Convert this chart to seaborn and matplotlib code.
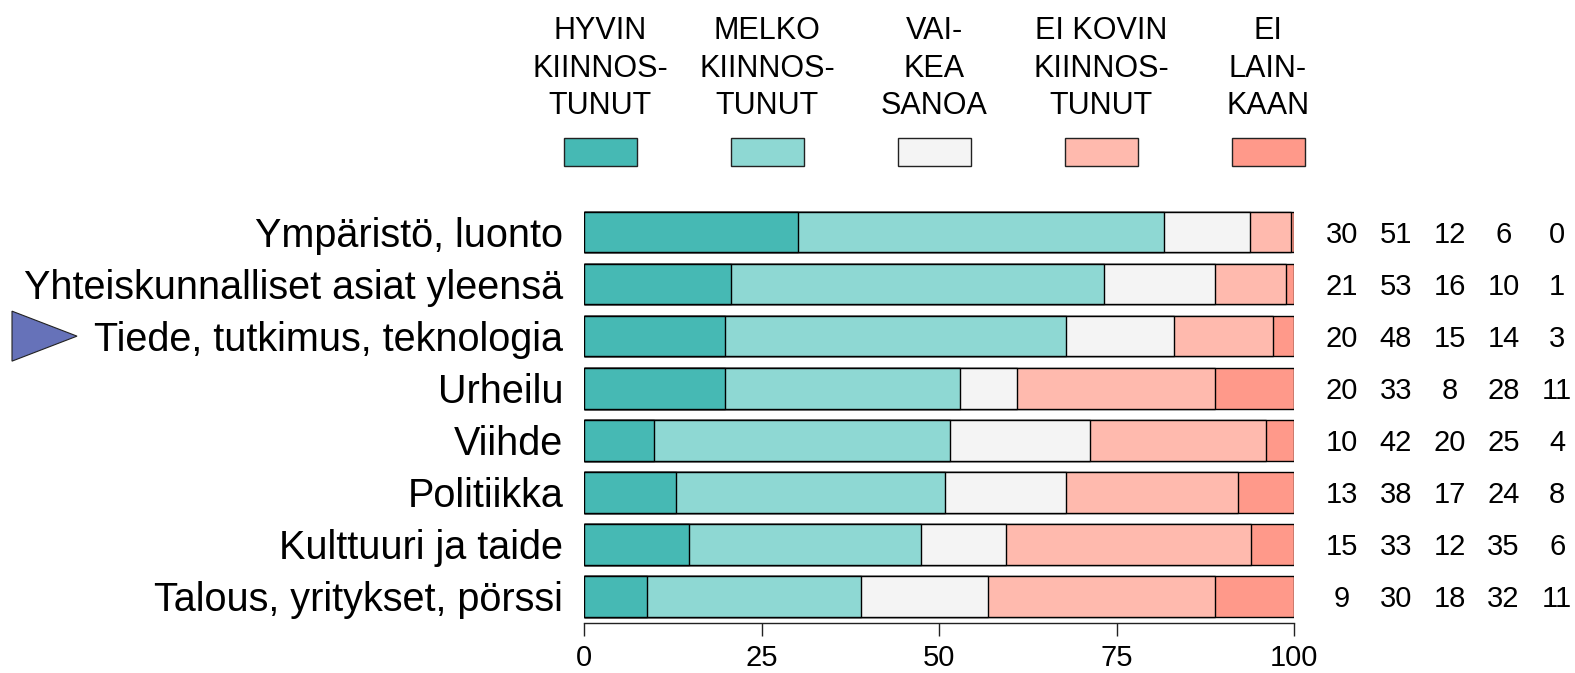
import numpy as np
import pandas as pd
import seaborn as sns
import matplotlib
matplotlib.use('Agg')
import matplotlib.pyplot as plt
from matplotlib.patches import Rectangle, Polygon

sns.set_theme(style='white')
plt.rcParams['font.family'] = ['Liberation Sans', 'DejaVu Sans']
plt.rcParams['text.color'] = 'black'
plt.rcParams['xtick.color'] = 'black'
plt.rcParams['ytick.color'] = 'black'
NARROW = ['Liberation Sans Narrow', 'Liberation Sans', 'DejaVu Sans']

# aiheet ylhäältä alas
topics = ['Ympäristö, luonto', 'Yhteiskunnalliset asiat yleensä', 'Tiede, tutkimus, teknologia',
          'Urheilu', 'Viihde', 'Politiikka', 'Kulttuuri ja taide', 'Talous, yritykset, pörssi']

series = ['HYVIN\nKIINNOS-\nTUNUT', 'MELKO\nKIINNOS-\nTUNUT', 'VAI-\nKEA\nSANOA',
          'EI KOVIN\nKIINNOS-\nTUNUT', 'EI\nLAIN-\nKAAN']
colours = ['#46B9B4', '#8ED8D3', '#F4F4F4', '#FFBAAE', '#FF998A']

# palkkien osuudet (%) luettuna kuvasta
hyvin   = [30.2, 20.7, 19.9, 19.9,  9.9, 13.0, 14.8,  8.9]
melko   = [51.5, 52.5, 48.0, 33.0, 41.6, 37.9, 32.7, 30.1]
vaikea  = [12.1, 15.7, 15.2,  8.1, 19.7, 17.0, 11.9, 17.9]
eikovin = [ 5.8, 10.0, 13.9, 27.9, 24.8, 24.2, 34.6, 32.0]
eilain  = [ 0.4,  1.1,  3.0, 11.1,  4.0,  7.9,  6.0, 11.1]

# oikean reunan lukuarvot
shown = [[30, 51, 12, 6, 0],
         [21, 53, 16, 10, 1],
         [20, 48, 15, 14, 3],
         [20, 33, 8, 28, 11],
         [10, 42, 20, 25, 4],
         [13, 38, 17, 24, 8],
         [15, 33, 12, 35, 6],
         [9, 30, 18, 32, 11]]

xticks = [0, 25, 50, 75, 100]
highlight = 'Tiede, tutkimus, teknologia'

W, H = 1575, 673
fig = plt.figure(figsize=(W / 100, H / 100), dpi=100)
ax = fig.add_axes([584 / W, 1 - 622.5 / H, 710 / W, 416.5 / H])

df = pd.DataFrame({'topic': topics, 's0': hyvin, 's1': melko, 's2': vaikea,
                   's3': eikovin, 's4': eilain})
cols = ['s0', 's1', 's2', 's3', 's4']
cum = df[cols].cumsum(axis=1)
# pinotaan: piirretään kumulatiiviset summat suurimmasta pienimpään
for i in reversed(range(5)):
    sns.barplot(x=cum[cols[i]], y=df['topic'], color=colours[i], orient='h',
                width=0.78, edgecolor='black', linewidth=1.0, saturation=1, ax=ax)

ax.set_xlim(0, 100)
ax.set_xlabel('')
ax.set_ylabel('')
for s in ['top', 'right', 'left']:
    ax.spines[s].set_visible(False)
ax.spines['bottom'].set_color('#222222')
ax.spines['bottom'].set_linewidth(1)
ax.set_xticks(xticks)
ax.set_xticklabels([str(t) for t in xticks])
ax.tick_params(axis='x', bottom=True, length=9.4, width=1, color='#222222', pad=6, labelsize=21)
ax.tick_params(axis='y', left=False, length=0, pad=15, labelsize=28.5)
for lbl in ax.get_xticklabels():
    lbl.set_fontfamily(NARROW)

# luvut oikealla
px = 710 / 100.0
for r, row in enumerate(shown):
    for j, v in enumerate(row):
        xc = (1342 + j * 53.8 - 584) / px
        ax.text(xc, r, str(v), ha='center', va='center_baseline', fontsize=21,
                clip_on=False)

# selite ylhäällä
base = [39, 77, 114]
for j, lab in enumerate(series):
    xc = 600 + j * 167
    for k, line in enumerate(lab.split('\n')):
        fig.text(xc / W, 1 - base[k] / H, line, ha='center', va='baseline',
                 fontsize=22, family=NARROW)
    fig.patches.append(Rectangle(((xc - 36.5) / W, 1 - 166 / H), 73 / W, 28 / H,
                                 transform=fig.transFigure, facecolor=colours[j],
                                 edgecolor='#222222', linewidth=1))

# korostuskolmio
r = topics.index(highlight)
yc = 232 + r * 52.07
tri = [(12 / W, 1 - (yc - 25) / H), (12 / W, 1 - (yc + 25) / H), (77 / W, 1 - yc / H)]
fig.patches.append(Polygon(tri, closed=True, transform=fig.transFigure,
                           facecolor='#6672B9', edgecolor='#222222', linewidth=0.8))

fig.savefig('out.png', dpi=100)
